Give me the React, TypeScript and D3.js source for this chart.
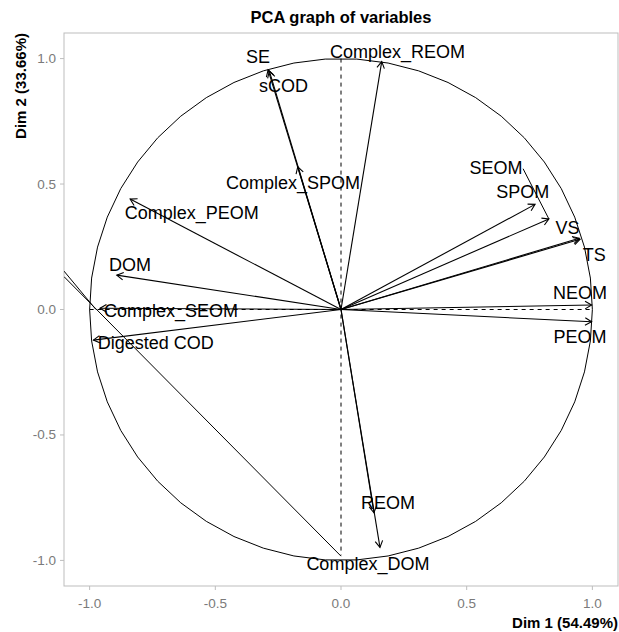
import React, { useEffect } from 'react'
import * as d3 from 'd3'

// variables and their coordinates on Dim 1 / Dim 2
const variables = ['SE', 'sCOD', 'Complex_REOM', 'Complex_SPOM', 'Complex_PEOM', 'DOM', 'Complex_SEOM', 'Digested COD',
  'SEOM', 'SPOM', 'VS', 'TS', 'NEOM', 'PEOM', 'REOM', 'Complex_DOM']
const dim1 = [-0.29, -0.285, 0.162, -0.172, -0.839, -0.892, -0.959, -0.985,
  0.827, 0.772, 0.951, 0.948, 0.997, 0.997, 0.131, 0.155]
const dim2 = [0.955, 0.95, 0.988, 0.569, 0.44, 0.137, 0.005, -0.122,
  0.361, 0.419, 0.28, 0.284, 0.018, -0.049, -0.81, -0.948]
// repelled label positions (data units)
const labelX = [-0.33, -0.229, 0.225, -0.191, -0.594, -0.839, -0.676, -0.737,
  0.617, 0.723, 0.901, 1.008, 0.951, 0.951, 0.187, 0.107]
const labelY = [1.006, 0.891, 1.027, 0.506, 0.386, 0.177, -0.005, -0.132,
  0.565, 0.467, 0.324, 0.217, 0.065, -0.111, -0.77, -1.014]
// labels that get a leader segment
const segmentLabels = ['SEOM']

// stray lines at the left of the panel
const strayLines = [
  [[-1.102, 0.153], [-0.975, 0.0]],
  [[-1.102, 0.131], [0, -0.983]],
]

const ticks = [-1.0, -0.5, 0.0, 0.5, 1.0]

const W = 619
const H = 632
const left = 64, right = 618, top = 33, bottom = 586
const lim = 1.102

const App = () => {
  useEffect(() => {
    document.body.style.margin = '0'
  }, [])

  const x = d3.scaleLinear().domain([-lim, lim]).range([left, right])
  const y = d3.scaleLinear().domain([-lim, lim]).range([bottom, top])

  const circlePts: [number, number][] = d3.range(0, 51).map(i => {
    const a = (i / 50) * 2 * Math.PI
    return [Math.cos(a), Math.sin(a)]
  })
  const circle = d3.line().x(d => x(d[0])).y(d => y(d[1]))(circlePts)

  const head = (px: number, py: number) => {
    const x0 = x(0), y0 = y(0)
    const ang = Math.atan2(py - y0, px - x0)
    const len = 7.5
    const w1 = ang + Math.PI - Math.PI / 6
    const w2 = ang + Math.PI + Math.PI / 6
    return `M${px + len * Math.cos(w1)},${py + len * Math.sin(w1)}L${px},${py}L${px + len * Math.cos(w2)},${py + len * Math.sin(w2)}`
  }

  const font = '"Liberation Sans", Arial, sans-serif'
  const fmt = (t: number) => t.toFixed(1)

  return (
    <svg width={W} height={H} style={{ position: 'absolute', left: 0, top: 0, fontFamily: font }}>
      <defs>
        <clipPath id="panel">
          <rect x={left} y={top} width={right - left} height={bottom - top} />
        </clipPath>
      </defs>
      <text x={(left + right) / 2} y={23} textAnchor="middle" fontSize={16.5} fontWeight="bold">PCA graph of variables</text>

      <rect x={left} y={top} width={right - left} height={bottom - top} fill="none" stroke="#bdbdbd" strokeWidth={1} />

      {ticks.map(t => (
        <g key={'x' + t}>
          <line x1={x(t)} x2={x(t)} y1={bottom} y2={bottom + 4} stroke="#bdbdbd" />
          <text x={x(t)} y={603} textAnchor="middle" dominantBaseline="central" fontSize={13.5} fill="#7a7a7a">{fmt(t)}</text>
        </g>
      ))}
      {ticks.map(t => (
        <g key={'y' + t}>
          <line x1={left - 4} x2={left} y1={y(t)} y2={y(t)} stroke="#bdbdbd" />
          <text x={56} y={y(t)} textAnchor="end" dominantBaseline="central" fontSize={13.5} fill="#7a7a7a">{fmt(t)}</text>
        </g>
      ))}

      <text x={right} y={622} textAnchor="end" dominantBaseline="central" fontSize={15} fontWeight="bold">Dim 1 (54.49%)</text>
      <text transform={`translate(20,${top}) rotate(-90)`} textAnchor="end" dominantBaseline="central" fontSize={15} fontWeight="bold">Dim 2 (33.66%)</text>

      <g clipPath="url(#panel)">
        <path d={circle || ''} fill="none" stroke="black" strokeWidth={1} />
        <line x1={x(-1)} x2={x(1)} y1={y(0)} y2={y(0)} stroke="black" strokeDasharray="4,4" />
        <line x1={x(0)} x2={x(0)} y1={y(1)} y2={y(-0.98)} stroke="black" strokeDasharray="4,4" />
        {strayLines.map((l, i) => (
          <line key={i} x1={x(l[0][0])} y1={y(l[0][1])} x2={x(l[1][0])} y2={y(l[1][1])} stroke="black" strokeWidth={1} />
        ))}
        {variables.map((v, i) => (
          <g key={v} fill="none" stroke="black" strokeWidth={1.1}>
            <line x1={x(0)} y1={y(0)} x2={x(dim1[i])} y2={y(dim2[i])} />
            <path d={head(x(dim1[i]), y(dim2[i]))} />
          </g>
        ))}
        {variables.filter(v => segmentLabels.includes(v)).map(v => {
          const i = variables.indexOf(v)
          return <line key={'s' + v} x1={x(labelX[i]) + 27} y1={y(labelY[i]) + 1} x2={x(dim1[i])} y2={y(dim2[i])} stroke="black" strokeWidth={1} />
        })}
      </g>

      {variables.map((v, i) => (
        <text key={'l' + v} x={x(labelX[i])} y={y(labelY[i])} textAnchor="middle" dominantBaseline="central" fontSize={18} fill="black">{v}</text>
      ))}
    </svg>
  )
}

export default App
